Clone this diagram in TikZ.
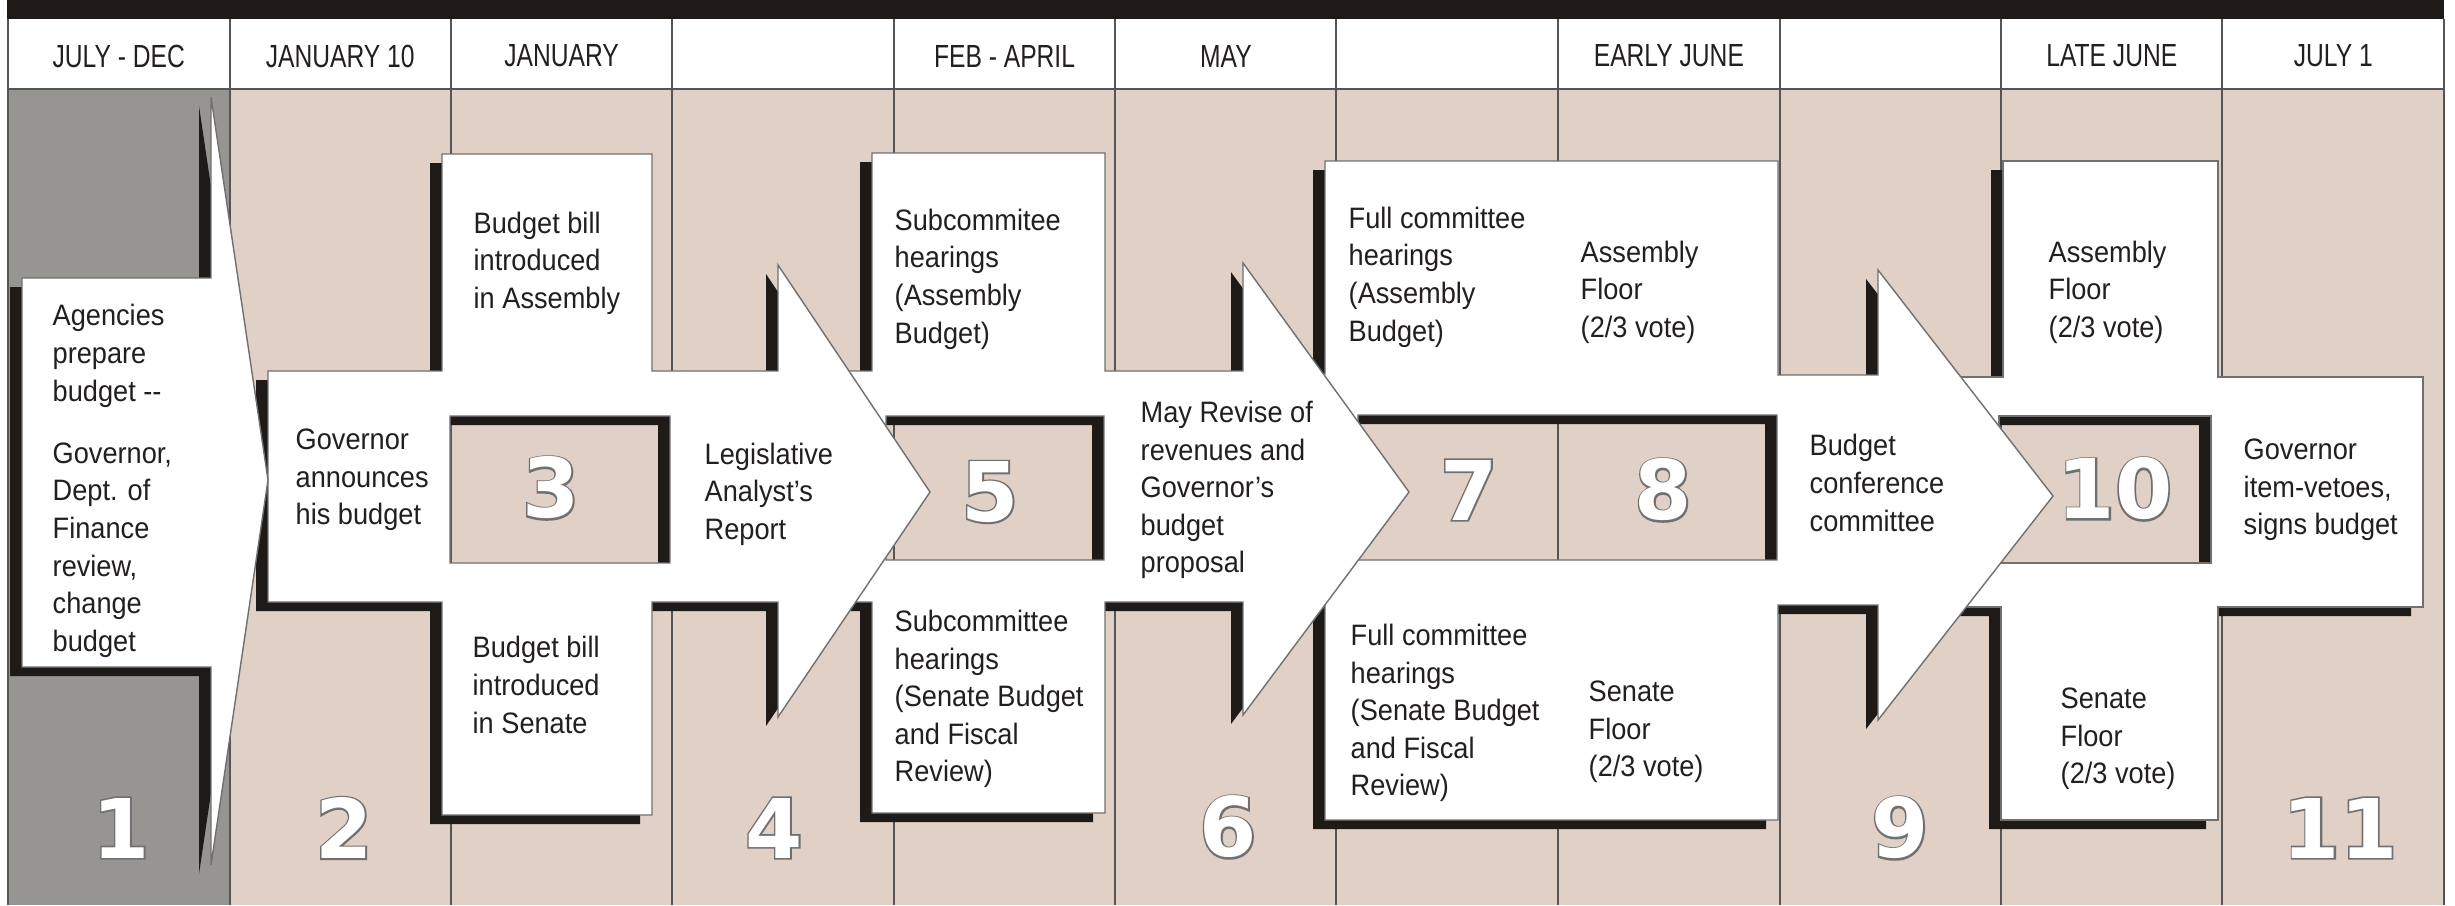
\documentclass[tikz,border=0pt]{standalone}
\usepackage{fontspec}
\setmainfont{Liberation Sans}
\newfontfamily\bodyfont{Liberation Sans}[FakeStretch=0.92]
\newfontfamily\headfont{Liberation Sans}[FakeStretch=0.77]
\newfontfamily\numfont{DejaVu Sans Bold}
\newfontfamily\numedge{DejaVu Sans Bold}[FakeBold=4]

\definecolor{stagebg}{HTML}{E1D0C5}
\definecolor{prepbg}{HTML}{979591}
\definecolor{shadowblk}{HTML}{1E1A18}
\definecolor{rulegray}{HTML}{555555}
\definecolor{edgegray}{HTML}{707070}
\definecolor{ink}{HTML}{231F20}

\newcommand{\prepshape}{(22,278) -- (211,278) -- (211,97) -- (268,480) -- (211,865) -- (211,667) -- (22,667) -- cycle}
\newcommand{\govshape}{(268,371) -- (442,371) -- (442,154) -- (652,154) -- (652,371) -- (778,371) -- (778,265) -- (930,492) -- (778,717) -- (778,602) -- (652,602) -- (652,815) -- (442,815) -- (442,602) -- (268,602) -- cycle (450,416) rectangle (670,563)}
\newcommand{\subshape}{(800,371) -- (872,371) -- (872,153) -- (1105,153) -- (1105,371) -- (1243,371) -- (1243,263) -- (1409,492) -- (1243,715) -- (1243,602) -- (1105,602) -- (1105,813) -- (872,813) -- (872,602) -- (800,602) -- cycle (886,416) rectangle (1104,560)}
\newcommand{\fullshape}{(1265,374) -- (1325,374) -- (1325,161) -- (1778,161) -- (1778,375) -- (1878,375) -- (1878,270) -- (2053,496) -- (1878,720) -- (1878,605) -- (1778,605) -- (1778,820) -- (1325,820) -- (1325,605) -- (1265,605) -- cycle (1358,415) rectangle (1777,560)}
\newcommand{\floorshape}{(1900,377) -- (2003,377) -- (2003,161) -- (2218,161) -- (2218,377) -- (2423,377) -- (2423,607) -- (2218,607) -- (2218,820) -- (2001,820) -- (2001,607) -- (1900,607) -- cycle (1999,416) rectangle (2211,563)}

\begin{document}
\begin{tikzpicture}[x=0.01cm, y=-0.01cm,
    hdr/.style={font=\headfont\fontsize{9.1pt}{11pt}\selectfont, text=ink, inner sep=0pt},
    txt/.style={font=\bodyfont\fontsize{8.4pt}{10.7pt}\selectfont, text=ink, align=left, anchor=west, inner sep=0pt},
    numline/.style={font=\numedge\fontsize{23.4pt}{24pt}\selectfont, text=edgegray, inner sep=0pt},
    num/.style={font=\numfont\fontsize{23.4pt}{24pt}\selectfont, text=white, inner sep=0pt},
    shadow/.style={fill=shadowblk, even odd rule, shift={(-12,9)}},
    stage/.style={fill=white, draw=edgegray, line width=0.4pt, even odd rule}]
    \useasboundingbox (0,0) rectangle (2455,905);
    \fill[white] (0,0) rectangle (2455,905);
    \fill[shadowblk] (7,0) rectangle (2444,19);
    \fill[prepbg] (8,89) rectangle (230,905);
    \fill[stagebg] (230,89) rectangle (2444,905);
    \draw[rulegray, line width=0.6pt] (8,89) -- (2444,89);
    \foreach \cx in {8,230,451,672,894,1115,1336,1558,1780,2001,2222,2444}
        \draw[rulegray, line width=0.35pt] (\cx,19) -- (\cx,905);

    \foreach \i/\lbl in {1/JULY - DEC, 2/JANUARY 10, 3/JANUARY, 5/FEB - APRIL, 6/MAY, 8/EARLY JUNE, 10/LATE JUNE, 11/JULY 1}
        \node[hdr] (hdr\i) at ({8+(\i-0.5)*221.45},56) {\lbl};

    \fill[shadow] \floorshape;
    \filldraw[stage] \floorshape;
    \fill[shadow] \fullshape;
    \filldraw[stage] \fullshape;
    \fill[shadow] \subshape;
    \filldraw[stage] \subshape;
    \fill[shadow] \govshape;
    \filldraw[stage] \govshape;
    \fill[shadow] \prepshape;
    \filldraw[stage] \prepshape;

    \node[txt] (agencies) at (52,481) {Agencies\\prepare\\budget -{}-\\[7pt]Governor,\\Dept. of\\Finance\\review,\\change\\budget};
    \node[txt] (announce) at (295,480) {Governor\\announces\\his budget};
    \node[txt] (billasm) at (473,263) {Budget bill\\introduced\\in Assembly};
    \node[txt] (billsen) at (472,685) {Budget bill\\introduced\\in Senate};
    \node[txt] (analyst) at (704,494) {Legislative\\Analyst’s\\Report};
    \node[txt] (subasm) at (894,279) {Subcommitee\\hearings\\(Assembly\\Budget)};
    \node[txt] (subsen) at (894,699) {Subcommittee\\hearings\\(Senate Budget\\and Fiscal\\Review)};
    \node[txt] (mayrev) at (1140,490) {May Revise of\\revenues and\\Governor’s\\budget\\proposal};
    \node[txt] (fullasm) at (1348,277) {Full committee\\hearings\\(Assembly\\Budget)};
    \node[txt] (floorasm) at (1580,292) {Assembly\\Floor\\(2/3 vote)};
    \node[txt] (fullsen) at (1350,713) {Full committee\\hearings\\(Senate Budget\\and Fiscal\\Review)};
    \node[txt] (floorsen) at (1588,732) {Senate\\Floor\\(2/3 vote)};
    \node[txt] (conf) at (1809,483) {Budget\\conference\\committee};
    \node[txt] (finasm) at (2048,292) {Assembly\\Floor\\(2/3 vote)};
    \node[txt] (finsen) at (2060,739) {Senate\\Floor\\(2/3 vote)};
    \node[txt] (veto) at (2243,490) {Governor\\item-vetoes,\\signs budget};

    \foreach \n/\nx/\ny in {1/121/828, 2/344/828, 3/551/488, 4/774/828, 5/990/492, 6/1228/827, 7/1469/490, 8/1663/490, 9/1900/828, 10/2115/489, 11/2340/828} {
        \node[numline] (edge\n) at (\nx,\ny) {\n};
        \node[num] (num\n) at (\nx,\ny) {\n};
    }
\end{tikzpicture}
\end{document}
